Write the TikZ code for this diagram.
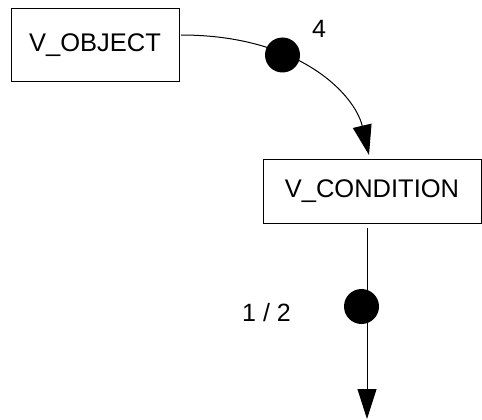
\documentclass[tikz,border=0pt]{standalone}
\usepackage{fontspec}
\setmainfont{Liberation Sans}
\usetikzlibrary{arrows.meta}
\begin{document}
\begin{tikzpicture}[x=1pt,y=-1pt,
  box/.style={draw, line width=1pt, inner sep=0pt, font=\fontsize{25.5}{30}\selectfont},
  dotnode/.style={circle, fill=black, inner sep=0pt, minimum size=35pt},
  lbl/.style={inner sep=0pt, font=\fontsize{25}{30}\selectfont},
  conn/.style={line width=1pt, -{Triangle[length=30pt,width=19pt]}}]
\useasboundingbox (0,0) rectangle (482,420);
\node[box, minimum width=168pt, minimum height=73pt] (obj) at (95,45.5) {V\_OBJECT};
\node[box, minimum width=218pt, minimum height=64pt] (cond) at (372,191) {V\_CONDITION};
\coordinate (s1) at (181,35);
\coordinate (e1) at (369,155);
\coordinate (s2) at (367,228);
\coordinate (e2) at (367,419);
\draw[conn] (s1) .. controls (300,35) and (355,95) .. (e1);
\draw[conn] (s2) -- (e2);
\node[dotnode] (d1) at (282.5,55) {};
\node[dotnode] (d2) at (361.5,306.5) {};
\node[lbl] (l1) at (319,29) {4};
\node[lbl] (l2) at (266.5,313) {1 / 2};
\end{tikzpicture}
\end{document}
